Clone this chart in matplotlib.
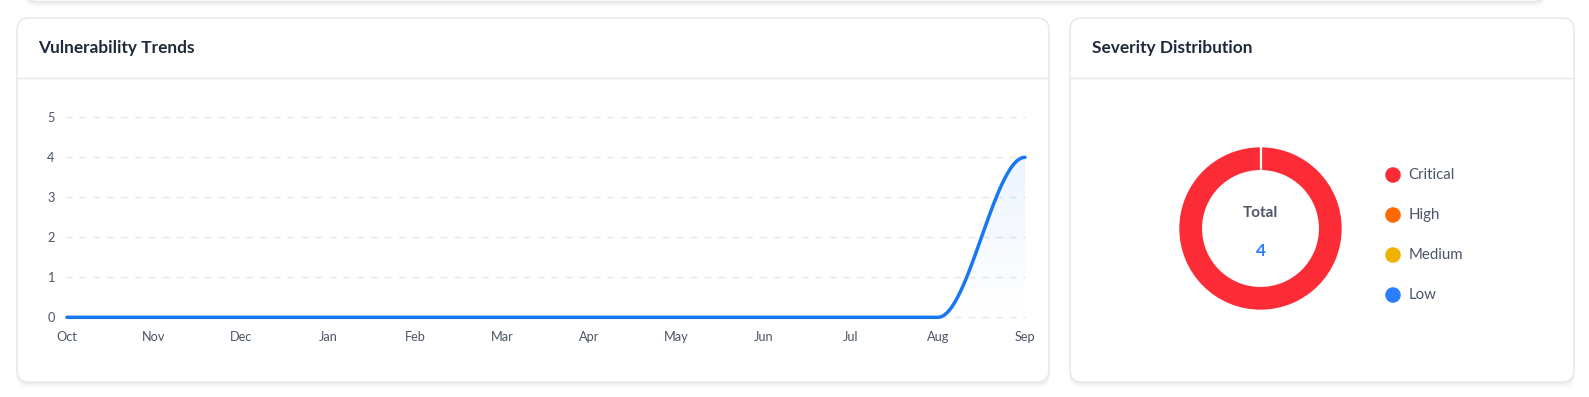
import numpy as np
import matplotlib
matplotlib.use("Agg")
import matplotlib.pyplot as plt
from matplotlib.patches import FancyBboxPatch, Polygon

# ---------------- data ----------------
months = ["Oct", "Nov", "Dec", "Jan", "Feb", "Mar", "Apr", "May", "Jun", "Jul", "Aug", "Sep"]
trend_values = [0, 0, 0, 0, 0, 0, 0, 0, 0, 0, 0, 4]
y_ticks = [0, 1, 2, 3, 4, 5]

severity_labels = ["Critical", "High", "Medium", "Low"]
severity_values = [4, 0, 0, 0]
severity_colors = ["#fb2c36", "#ff6900", "#f0b100", "#2b7fff"]

LINE_BLUE = "#1877f2"
BORDER = "#e5e7eb"
TEXT_DARK = "#1e2939"
TEXT_MID = "#4a5565"

W, H = 1589, 397
plt.rcParams['font.family'] = ['Lato', 'DejaVu Sans']

fig = plt.figure(figsize=(W / 100, H / 100), dpi=100)
fig.patch.set_facecolor("white")

# background axes in pixel coordinates
bg = fig.add_axes([0, 0, 1, 1])
bg.set_xlim(0, W)
bg.set_ylim(H, 0)
bg.axis("off")


def card(x0, y0, x1, y1, header=None):
    # soft shadow
    for i, a in enumerate([0.035, 0.025, 0.015]):
        sh = FancyBboxPatch((x0 - i * 0.5, y0 + 1 + i), x1 - x0 + i, y1 - y0 + 1 + i,
                            boxstyle="round,pad=0,rounding_size=12",
                            facecolor="black", edgecolor="none", alpha=a, zorder=1)
        bg.add_patch(sh)
    p = FancyBboxPatch((x0, y0), x1 - x0, y1 - y0,
                       boxstyle="round,pad=0,rounding_size=12",
                       facecolor="white", edgecolor=BORDER, linewidth=1.0, zorder=2)
    bg.add_patch(p)
    if header is not None:
        bg.plot([x0 + 0.5, x1 - 0.5], [header, header], color=BORDER, lw=1.0, zorder=3)


# partial card at top
card(25, -60, 1545, 1.5)
card(17, 18, 1049, 382, header=78)
card(1070, 18, 1574, 382, header=78)

bg.text(38.5, 48, "Vulnerability Trends", fontsize=12.4, fontweight="bold",
        color=TEXT_DARK, va="center", ha="left", zorder=5)
bg.text(1091.5, 48, "Severity Distribution", fontsize=12.4, fontweight="bold",
        color=TEXT_DARK, va="center", ha="left", zorder=5)

# ---------------- line chart ----------------
x_left, x_right = 67, 1025
y_zero, y_top = 317.3, 117.3
ax = fig.add_axes([x_left / W, (H - y_zero) / H, (x_right - x_left) / W, (y_zero - y_top) / H])
ax.set_facecolor("none")
n = len(months)
for s in ax.spines.values():
    s.set_visible(False)

for yt in y_ticks:
    ax.plot([-0.025, n - 1], [yt, yt], color=BORDER, lw=1.0, ls=(0, (5, 5)),
            clip_on=False, zorder=1)

# smooth curve: cubic bezier with horizontal tangents at each point
xs = np.arange(n, dtype=float)
ys = np.array(trend_values, dtype=float)
t = np.linspace(0, 1, 60)
cx, cy = [], []
c = 0.35
for i in range(n - 1):
    p0 = (xs[i], ys[i]); p3 = (xs[i + 1], ys[i + 1])
    p1 = (xs[i] + c, ys[i]); p2 = (xs[i + 1] - c, ys[i + 1])
    bx = (1 - t) ** 3 * p0[0] + 3 * (1 - t) ** 2 * t * p1[0] + 3 * (1 - t) * t ** 2 * p2[0] + t ** 3 * p3[0]
    by = (1 - t) ** 3 * p0[1] + 3 * (1 - t) ** 2 * t * p1[1] + 3 * (1 - t) * t ** 2 * p2[1] + t ** 3 * p3[1]
    cx.extend(bx); cy.extend(by)
cx = np.array(cx); cy = np.array(cy)

# gradient fill under curve
poly_xy = np.column_stack([np.concatenate([cx, [cx[-1], cx[0]]]),
                           np.concatenate([cy, [0, 0]])])
poly = Polygon(poly_xy, closed=True, facecolor="none", edgecolor="none")
ax.add_patch(poly)
grad = np.zeros((256, 2, 4))
rgb = matplotlib.colors.to_rgb(LINE_BLUE)
grad[..., 0] = rgb[0]; grad[..., 1] = rgb[1]; grad[..., 2] = rgb[2]
alphas = np.linspace(0.0, 0.08, 256)
grad[..., 3] = alphas[:, None]
im = ax.imshow(grad, extent=[0, n - 1, 0, max(ys)], origin="lower", aspect="auto", zorder=2)
im.set_clip_path(poly)

ax.plot(cx, cy, color=LINE_BLUE, lw=2.5, solid_capstyle="round", clip_on=False, zorder=4)

ax.set_xticks(xs)
ax.set_xticklabels(months)
ax.set_yticks(y_ticks)
ax.set_yticklabels([str(v) for v in y_ticks])
ax.tick_params(axis="both", length=0, labelsize=9.2, colors=TEXT_MID)
ax.tick_params(axis="x", pad=10)
ax.tick_params(axis="y", pad=9)
ax.set_ylim(0, 5)
ax.set_xlim(0, n - 1)

# ---------------- donut ----------------
cxp, cyp, R = 1260.5, 228.5, 82
side = 2 * R
dax = fig.add_axes([(cxp - R) / W, (H - cyp - R) / H, side / W, side / H])
dax.axis("off")
ring = 0.28
dax.pie(severity_values, colors=severity_colors, radius=1, startangle=90, counterclock=False,
        wedgeprops=dict(width=ring, edgecolor="none"))
dax.set_aspect("equal")
dax.set_xlim(-1.01, 1.01); dax.set_ylim(-1.01, 1.01)
# white separator at the segment boundary
dax.plot([0, 0], [1 - ring - 0.02, 1.02], color="white", lw=1.6, zorder=10)

bg.text(cxp, 213, "Total", fontsize=11, fontweight="bold", color=TEXT_MID,
        ha="center", va="center", zorder=5)
bg.text(cxp, 251, str(sum(severity_values)), fontsize=12.5, fontweight="bold",
        color=severity_colors[3], ha="center", va="center", zorder=5)

# legend
leg_y0, leg_dy = 175, 40
for i, (lab, col) in enumerate(zip(severity_labels, severity_colors)):
    yy = leg_y0 + i * leg_dy
    bg.scatter([1393], [yy], s=125, color=col, edgecolors="none", zorder=5)
    bg.text(1408.5, yy, lab, fontsize=10.8, color=TEXT_MID, ha="left", va="center", zorder=5)

fig.savefig("out.png", dpi=100, facecolor="white")
